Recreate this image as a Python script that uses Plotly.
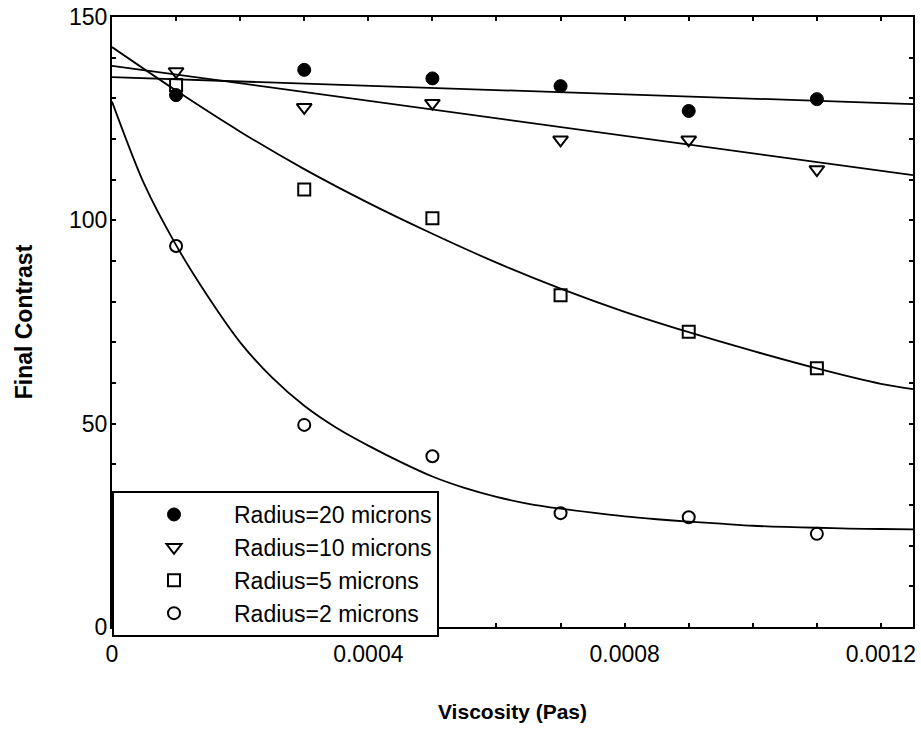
import plotly.graph_objects as go

# ---- data ----
viscosity = [0.0001, 0.0003, 0.0005, 0.0007, 0.0009, 0.0011]
contrast_r20 = [130.8, 137.0, 134.9, 133.0, 126.9, 129.8]
contrast_r10 = [136.6, 127.8, 128.8, 119.8, 119.8, 112.5]
contrast_r5 = [133.3, 107.6, 100.5, 81.6, 72.6, 63.6]
contrast_r2 = [93.7, 49.7, 42.0, 28.0, 27.0, 22.9]

series_names = ["Radius=20 microns", "Radius=10 microns",
                "Radius=5 microns", "Radius=2 microns"]

# fitted curves
fit_x_r20 = [0, 0.00125]
fit_y_r20 = [135.2, 128.6]
fit_x_r10 = [0, 0.00125]
fit_y_r10 = [138.0, 111.1]
fit_x_r5 = [0, 0.0001, 0.0002, 0.0003, 0.0004, 0.0005, 0.0006, 0.0007,
            0.0008, 0.0009, 0.0010, 0.0011, 0.0012, 0.00125]
fit_y_r5 = [142.6, 131.9, 121.8, 112.6, 104.3, 96.7, 89.6, 83.2,
            77.5, 72.5, 67.9, 63.6, 59.8, 58.5]
fit_x_r2 = [0, 0.00005, 0.0001, 0.00015, 0.0002, 0.00025, 0.0003, 0.00035,
            0.0004, 0.00045, 0.0005, 0.00055, 0.0006, 0.00065, 0.0007,
            0.00075, 0.0008, 0.00085, 0.0009, 0.00095, 0.0010, 0.00105,
            0.0011, 0.00115, 0.0012, 0.00125]
fit_y_r2 = [129.2, 109.0, 93.9, 81.2, 70.0, 61.3, 54.4, 49.0,
            44.6, 40.6, 37.0, 34.2, 32.0, 30.3, 29.1,
            28.1, 27.2, 26.5, 25.9, 25.4, 24.9, 24.6,
            24.4, 24.2, 24.1, 24.0]

x_tick_vals = [0, 0.0001, 0.0002, 0.0003, 0.0004, 0.0005, 0.0006,
               0.0007, 0.0008, 0.0009, 0.0010, 0.0011, 0.0012]
x_tick_text = ["0", "", "", "", "0.0004", "", "", "", "0.0008", "", "", "", "0.0012"]
y_tick_vals = [0, 10, 20, 30, 40, 50, 60, 70, 80, 90, 100, 110, 120, 130, 140, 150]
y_tick_text = ["0", "", "", "", "", "50", "", "", "", "", "100", "", "", "", "", "150"]

FONT = "Liberation Sans, Arial, Helvetica, sans-serif"

fig = go.Figure()

for fx, fy in [(fit_x_r20, fit_y_r20), (fit_x_r10, fit_y_r10),
               (fit_x_r5, fit_y_r5), (fit_x_r2, fit_y_r2)]:
    fig.add_trace(go.Scatter(x=fx, y=fy, mode="lines",
                             line=dict(color="black", width=1.8, shape="spline",
                                       smoothing=0.8),
                             showlegend=False, hoverinfo="skip"))

marker_styles = [
    dict(symbol="circle", size=13, color="black", line=dict(color="black", width=1)),
    dict(symbol="triangle-down-open", size=13, color="black", line=dict(color="black", width=2)),
    dict(symbol="square-open", size=12, color="black", line=dict(color="black", width=2)),
    dict(symbol="circle-open", size=12, color="black", line=dict(color="black", width=2)),
]
for name, ys, ms in zip(series_names,
                        [contrast_r20, contrast_r10, contrast_r5, contrast_r2],
                        marker_styles):
    fig.add_trace(go.Scatter(x=viscosity, y=ys, mode="markers", name=name,
                             marker=ms, cliponaxis=False))

axis_common = dict(showline=True, linecolor="black", linewidth=2, mirror="allticks",
                   ticks="inside", ticklen=4, tickwidth=1.5, tickcolor="black",
                   showgrid=False, zeroline=False, automargin=False,
                   ticklabeloverflow="allow",
                   tickfont=dict(family=FONT, size=23, color="black"))

fig.update_layout(
    width=921, height=731,
    margin=dict(l=112, r=8, t=17, b=104, autoexpand=False),
    paper_bgcolor="white", plot_bgcolor="white",
    xaxis=dict(range=[0, 0.00125], tickvals=x_tick_vals, ticktext=x_tick_text,
               ticklabelstandoff=5,
               title=dict(text="<b>Viscosity (Pas)</b>", standoff=39,
                          font=dict(family=FONT, size=21, color="black")),
               **axis_common),
    yaxis=dict(range=[0, 150], tickvals=y_tick_vals, ticktext=y_tick_text,
               ticklabelstandoff=-2,
               title=dict(text="<b>Final Contrast</b>", standoff=30,
                          font=dict(family=FONT, size=23, color="black")),
               **axis_common),
    legend=dict(x=0, y=-0.0164, xanchor="left", yanchor="bottom",
                bgcolor="white", bordercolor="black", borderwidth=2,
                itemwidth=110,
                font=dict(family=FONT, size=23, color="black")),
    showlegend=True,
)

fig.write_html(
    "out.html",
    config={"displayModeBar": False},
    post_script="document.body.style.margin='0';document.body.style.overflow='hidden';",
)
